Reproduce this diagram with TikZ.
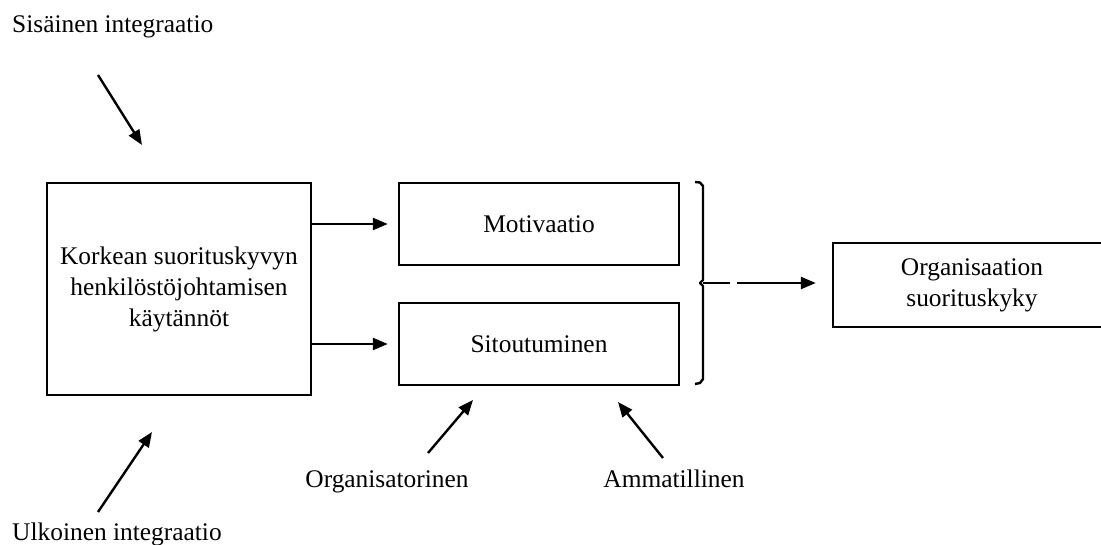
\documentclass[tikz,border=0pt]{standalone}
\usepackage{fontspec}
\setmainfont{Liberation Serif}
\usetikzlibrary{arrows.meta}
\begin{document}
\begin{tikzpicture}[x=1pt,y=-1pt,
  box/.style={draw,line width=2.4pt,inner sep=0pt,align=center,
    font=\fontsize{25.4}{31}\selectfont},
  lbl/.style={inner sep=0pt,font=\fontsize{25.4}{31}\selectfont},
  arr/.style={line width=2.4pt,-{Triangle[length=15pt,width=12pt]}},
  ln/.style={line width=2.4pt}]
\useasboundingbox (0,0) rectangle (1101,544);
\begin{scope}
\clip (0,0) rectangle (1101,544);
\node[box,minimum width=264pt,minimum height=212pt] (main) at (179,289)
  {Korkean suorituskyvyn\\henkilöstöjohtamisen\\käytännöt};
\node[box,minimum width=280pt,minimum height=82pt] (mot) at (539,224) {Motivaatio};
\node[box,minimum width=280pt,minimum height=82pt] (sit) at (539,344) {Sitoutuminen};
\node[box,minimum width=278pt,minimum height=84pt] (org) at (972,285)
  {Organisaation\\suorituskyky};
\end{scope}
\node[lbl,anchor=base west] (sis) at (12,32) {Sisäinen integraatio};
\node[lbl,anchor=base west] (ulk) at (12,540) {Ulkoinen integraatio};
\node[lbl,anchor=base] (orgn) at (387,487) {Organisatorinen};
\node[lbl,anchor=base] (amm) at (674,487) {Ammatillinen};
% arrows main -> boxes
\draw[arr,shorten >=10pt] (main.east |- mot.west) -- (mot.west);
\draw[arr,shorten >=10pt] (main.east |- sit.west) -- (sit.west);
% diagonal arrows
\coordinate (s1) at (98,75); \coordinate (s2) at (142,145);
\draw[arr] (s1) -- (s2);
\coordinate (u1) at (98,512); \coordinate (u2) at (152,432);
\draw[arr] (u1) -- (u2);
\coordinate (o1) at (428,453); \coordinate (o2) at (473,400);
\draw[arr] (o1) -- (o2);
\coordinate (a1) at (663,458); \coordinate (a2) at (618,402);
\draw[arr] (a1) -- (a2);
% bracket
\coordinate (bt) at (703,283);
\draw[ln,line join=round] (695,182) -- (700,182.5) -- (703,186) -- (703,280) -- (700,283)
  -- (703,286) -- (703,379) -- (700,383) -- (695,384);
\coordinate (st) at (730,283);
\draw[ln] (bt) -- (st);
\coordinate (ar) at (737,283);
\draw[arr,shorten >=16pt] (ar) -- (ar -| org.west);
\end{tikzpicture}
\end{document}
